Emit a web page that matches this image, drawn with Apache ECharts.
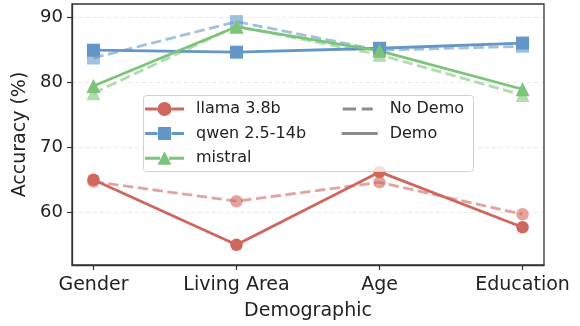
<!DOCTYPE html>
<html>
<head>
<meta charset="utf-8">
<script src="https://cdn.jsdelivr.net/npm/echarts@6/dist/echarts.min.js"></script>
<style>html,body{margin:0;padding:0;background:#fff;}#c{width:580px;height:326px;}</style>
</head>
<body>
<div id="c"></div>
<script>
const categories = ['Gender', 'Living Area', 'Age', 'Education'];
const models = ['llama 3.8b', 'qwen 2.5-14b', 'mistral'];
const styleNames = ['No Demo', 'Demo'];
const llamaDemo = [65.0, 55.0, 66.2, 57.7];
const llamaNoDemo = [64.7, 61.7, 64.6, 59.7];
const qwenDemo = [84.9, 84.6, 85.2, 86.0];
const qwenNoDemo = [83.7, 89.3, 84.9, 85.5];
const mistralDemo = [79.4, 88.5, 84.8, 78.9];
const mistralNoDemo = [78.3, 88.6, 84.2, 78.0];
const yTicks = [60, 70, 80, 90];

const colors = ['#d0675d', '#6497c7', '#7cc47a'];
const symbols = ['circle', 'rect', 'triangle'];
const sizes = [12.5, 13, 14];
const demoData = [llamaDemo, qwenDemo, mistralDemo];
const noDemoData = [llamaNoDemo, qwenNoDemo, mistralNoDemo];

// legend icons (line + marker), 39 x 14 box
const lineSegs = 'M0,5.5h12.5v3h-12.5z M26.5,5.5h12.5v3h-12.5z ';
const modelIcons = [
  'path://' + lineSegs + 'M12.5,7 a7,7 0 1,1 14,0 a7,7 0 1,1 -14,0 z',
  'path://' + lineSegs + 'M13,0.5h13v13h-13z',
  'path://M0,5.5h15v3h-15z M24,5.5h15v3h-15z M19.5,0 L26.5,13.5 L12.5,13.5 z'
];
const bboxPad = 'M0,0h0.01v0.01h-0.01z M35.99,0h0.01v0.01h-0.01z ';
const styleIcons = [
  'path://' + bboxPad + 'M1,0h13.3v3h-13.3z M20,0h11v3h-11z',
  'path://' + bboxPad + 'M0,0h36v3h-36z'
];

const toPts = arr => arr.map((v, i) => [i, v]);
const series = [];
models.forEach((m, k) => {
  series.push({
    name: m + ' (No Demo)', type: 'line', data: toPts(noDemoData[k]),
    symbol: symbols[k], symbolSize: sizes[k], z: 2,
    lineStyle: { color: colors[k], width: 2.8, type: [10.4, 4.5], opacity: 0.6 },
    itemStyle: { color: colors[k], opacity: 0.6 },
    emphasis: { disabled: true }, animation: false
  });
});
models.forEach((m, k) => {
  series.push({
    name: m, type: 'line', data: toPts(demoData[k]),
    symbol: symbols[k], symbolSize: sizes[k], z: 3,
    lineStyle: { color: colors[k], width: 2.8 },
    itemStyle: { color: colors[k] },
    emphasis: { disabled: true }, animation: false
  });
});
styleNames.forEach(n => {
  series.push({ name: n, type: 'line', data: [], symbol: 'none',
    lineStyle: { color: '#8c8c8c', width: 2.8 }, itemStyle: { color: '#8c8c8c' } });
});

const font = 'DejaVu Sans';
const chart = echarts.init(document.getElementById('c'), null, { renderer: 'canvas' });
chart.setOption({
  animation: false,
  grid: { left: 72, right: 36, top: 4, bottom: 61 },
  xAxis: {
    type: 'value', min: -0.15, max: 3.15,
    name: 'Demographic', nameLocation: 'middle', nameGap: 37,
    nameTextStyle: { fontFamily: font, fontSize: 19, color: '#222' },
    axisLine: { show: true, onZero: false, lineStyle: { color: '#333', width: 1.3 } },
    axisTick: { show: true, length: 5, customValues: [0, 1, 2, 3], lineStyle: { color: '#333', width: 1.2 } },
    axisLabel: { customValues: [0, 1, 2, 3], margin: 11, fontFamily: font, fontSize: 19, color: '#222',
      formatter: v => categories[Math.round(v)] },
    splitLine: { show: false }
  },
  yAxis: {
    type: 'value', min: 51.9, max: 92,
    name: 'Accuracy (%)', nameLocation: 'middle', nameGap: 35,
    nameTextStyle: { fontFamily: font, fontSize: 19, color: '#222' },
    axisLine: { show: true, onZero: false, lineStyle: { color: '#333', width: 1.3 } },
    axisTick: { show: true, length: 5, customValues: yTicks, lineStyle: { color: '#333', width: 1.2 } },
    axisLabel: { customValues: yTicks, margin: 9, fontFamily: font, fontSize: 18, color: '#222' },
    splitLine: { show: true, lineStyle: { color: '#e3e3e3', type: [4, 3], width: 0.8 } }
  },
  graphic: [
    { type: 'rect', z: 10, shape: { x: 72, y: 4, width: 472, height: 261 },
      style: { fill: 'none', stroke: '#333', lineWidth: 1.3 }, silent: true },
    { type: 'rect', z: 10, shape: { x: 143.5, y: 95.5, width: 330, height: 76, r: 3 },
      style: { fill: 'rgba(255,255,255,0.8)', stroke: '#d0d0d0', lineWidth: 1 }, silent: true }
  ],
  legend: [
    { data: models.map((m, k) => ({ name: m, icon: modelIcons[k] })),
      orient: 'vertical', left: 145, top: 101, padding: 0, itemGap: 8.5, itemWidth: 39, itemHeight: 16, z: 20,
      textStyle: { fontFamily: font, fontSize: 16, color: '#222', padding: [0, 0, 0, 7] }, selectedMode: false },
    { data: styleNames.map((n, k) => ({ name: n, icon: styleIcons[k] })),
      orient: 'vertical', left: 341.7, top: 101, padding: 0, itemGap: 8.5, itemWidth: 36, itemHeight: 16, z: 20,
      textStyle: { fontFamily: font, fontSize: 16, color: '#222', padding: [0, 0, 0, 7] }, selectedMode: false }
  ],
  series: series
});
</script>
</body>
</html>
